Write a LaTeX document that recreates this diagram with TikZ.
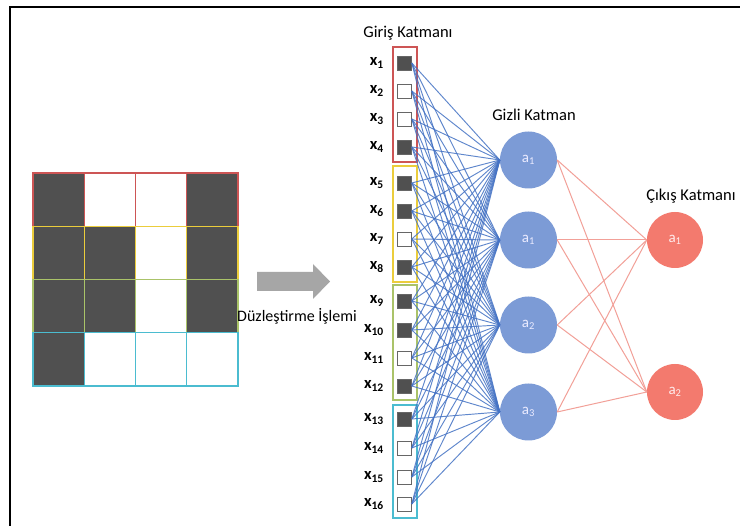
\documentclass[tikz,border=0pt]{standalone}
\usepackage{fontspec}
\setmainfont{Carlito}
\definecolor{cellfill}{RGB}{80,80,80}
\definecolor{rowred}{RGB}{205,85,85}
\definecolor{rowyellow}{RGB}{235,205,60}
\definecolor{rowgreen}{RGB}{170,195,105}
\definecolor{rowcyan}{RGB}{75,188,208}
\definecolor{hidblue}{RGB}{124,155,214}
\definecolor{outred}{RGB}{243,122,110}
\definecolor{edgeblue}{RGB}{68,114,196}
\definecolor{edgered}{RGB}{242,160,152}
\definecolor{arrowgray}{RGB}{166,166,166}
\begin{document}
\begin{tikzpicture}[x=1pt,y=-1pt,
  inbox/.style={draw=gray!80!black, line width=0.6pt, minimum size=14pt, inner sep=0pt},
  indark/.style={inbox, fill=cellfill},
  inlight/.style={inbox, fill=white},
  xlabel/.style={anchor=east, font=\fontsize{16.5}{18}\selectfont\bfseries, inner sep=0pt},
  hidden/.style={circle, fill=hidblue, minimum size=57pt, inner sep=0pt, text=white!92!blue, font=\fontsize{15}{17}\selectfont},
  outnode/.style={circle, fill=outred, minimum size=56pt, inner sep=0pt, text=white!92!red, font=\fontsize{15}{17}\selectfont},
  title/.style={anchor=base, font=\fontsize{16.5}{18}\selectfont, inner sep=0pt},
  bluewire/.style={draw=edgeblue, draw opacity=0.85, line width=0.95pt},
  redwire/.style={draw=edgered, line width=1pt},
  groupbox/.style={line width=1.3pt}
]
\useasboundingbox (0,0) rectangle (740,526);
\fill[white] (0,0) rectangle (740,526);
\draw[line width=2pt] (10,526) -- (10,7) -- (740,7);

% 4x4 image grid
\def\cw{51.25}
\def\ch{53.25}
\foreach \c/\r in {0/0,3/0,0/1,1/1,3/1,0/2,1/2,3/2,0/3}
  \fill[cellfill] (33+\c*\cw,173+\r*\ch) rectangle ++(\cw,\ch);
\foreach \r/\col in {0/rowred,1/rowyellow,2/rowgreen,3/rowcyan}
  \foreach \c in {0,1,2,3}
    \draw[\col, line width=1.4pt] (33+\c*\cw,173+\r*\ch) rectangle ++(\cw,\ch);

% flattening arrow
\fill[arrowgray] (257,272) -- (313,272) -- (313,264) -- (330,281.5) -- (313,299) -- (313,291) -- (257,291) -- cycle;
\node[title, font=\fontsize{16}{18}\selectfont] (flat) at (297,322) {Düzleştirme İşlemi};

% input layer group boxes
\draw[rowred, groupbox] (393,47) rectangle (417,162);
\draw[rowyellow, groupbox] (393,166) rectangle (417,282);
\draw[rowgreen, groupbox] (393,285) rectangle (417,400);
\draw[rowcyan, groupbox] (393,405) rectangle (417,518);

% input units
\foreach \i/\y/\s in {1/63/indark,2/91/inlight,3/119/inlight,4/147/indark,
                      5/183/indark,6/211/indark,7/239/inlight,8/267/indark,
                      9/301/indark,10/330/indark,11/358/inlight,12/386/indark,
                      13/419/indark,14/448/inlight,15/477/inlight,16/504/inlight}{
  \node[\s] (x\i) at (404.5,\y) {};
  \node[xlabel] (lx\i) at (384,\y) {x\textsubscript{\i}};
}

% hidden and output units
\node[hidden] (h1) at (528.5,160) {a\textsubscript{1}};
\node[hidden] (h2) at (528.5,240) {a\textsubscript{1}};
\node[hidden] (h3) at (528.5,325) {a\textsubscript{2}};
\node[hidden] (h4) at (528.5,412) {a\textsubscript{3}};
\node[outnode] (o1) at (675,240) {a\textsubscript{1}};
\node[outnode] (o2) at (675,392) {a\textsubscript{2}};

% connections
\foreach \i in {1,...,16}
  \foreach \j in {1,...,4}
    \draw[bluewire] (x\i.east) -- (h\j.west);
\foreach \j in {1,...,4}
  \foreach \k in {1,2}
    \draw[redwire] (h\j.east) -- (o\k.west);

% layer titles
\node[title] (tin) at (408,38) {Giriş Katmanı};
\node[title] (thid) at (534,121) {Gizli Katman};
\node[title] (tout) at (691,201) {Çıkış Katmanı};
\end{tikzpicture}
\end{document}
